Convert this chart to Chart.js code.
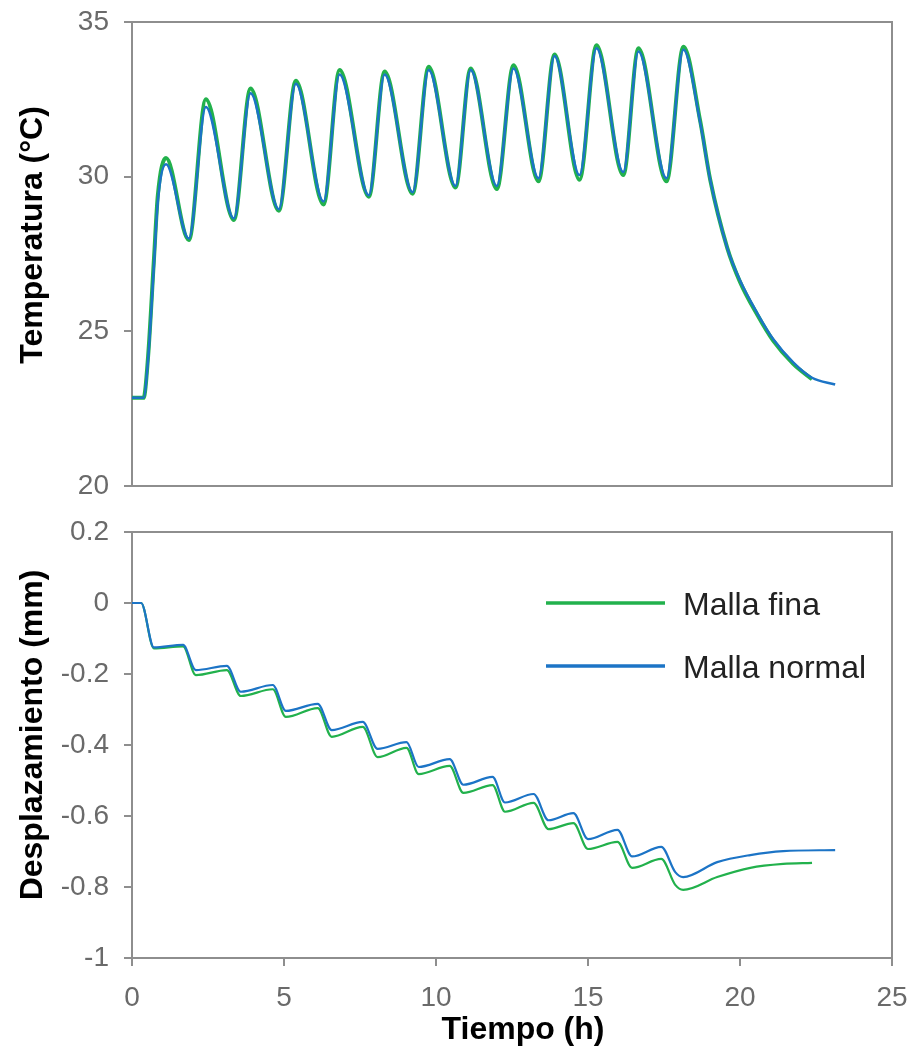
<!DOCTYPE html>
<html>
<head>
<meta charset="utf-8">
<script src="https://cdn.jsdelivr.net/npm/chart.js@4.4.1/dist/chart.umd.min.js"></script>
<style>
  body { margin: 0; background: #fff; }
  #wrap { position: relative; width: 913px; height: 1055px; }
  canvas { position: absolute; left: 0; }
  #tempChart { top: 0; }
  #dispChart { top: 510px; }
</style>
</head>
<body>
<div id="wrap">
  <canvas id="tempChart" width="913" height="510"></canvas>
  <canvas id="dispChart" width="913" height="545"></canvas>
</div>
<script>
// Series names
const seriesNames = ["Malla fina", "Malla normal"];

// Temperature (°C) vs time (h)
const tempTimeNormal = [0, 0.38, 0.53, 0.72, 0.85, 1.12, 1.87, 2.43, 3.35, 3.9, 4.83, 5.39, 6.3, 6.83, 7.79, 8.31, 9.23, 9.76, 10.64, 11.14, 12.0, 12.55, 13.37, 13.9, 14.72, 15.28, 16.16, 16.66, 17.58, 18.14, 18.69, 19.02, 19.58, 20.0, 20.56, 21.09, 21.75, 22.37, 23.13];
const tempNormal = [22.85, 22.85, 24.1, 27.1, 29.2, 30.4, 28.0, 32.25, 28.65, 32.7, 28.95, 33.0, 29.2, 33.3, 29.4, 33.3, 29.5, 33.45, 29.7, 33.45, 29.7, 33.5, 29.95, 33.9, 30.05, 34.15, 30.15, 34.05, 29.95, 34.1, 31.75, 29.9, 27.7, 26.65, 25.6, 24.75, 24.0, 23.5, 23.28];
const tempTimeFina = [0, 0.38, 0.53, 0.72, 0.85, 1.12, 1.87, 2.43, 3.35, 3.9, 4.83, 5.39, 6.3, 6.83, 7.79, 8.31, 9.23, 9.76, 10.64, 11.14, 12.0, 12.55, 13.37, 13.9, 14.72, 15.28, 16.16, 16.66, 17.58, 18.14, 18.69, 19.02, 19.58, 20.0, 20.56, 21.09, 21.75, 22.37];
const tempFina = [22.85, 22.85, 24.2, 27.3, 29.4, 30.6, 27.95, 32.5, 28.6, 32.85, 28.9, 33.1, 29.1, 33.45, 29.35, 33.4, 29.45, 33.55, 29.65, 33.5, 29.6, 33.6, 29.85, 33.95, 29.9, 34.25, 30.05, 34.15, 29.85, 34.2, 31.8, 29.9, 27.7, 26.6, 25.55, 24.7, 23.95, 23.45];

// Displacement (mm) vs time (h)
const dispTimeNormal = [0, 0.3, 0.72, 1.68, 2.1, 3.12, 3.58, 4.63, 5.06, 6.11, 6.57, 7.59, 8.08, 9.03, 9.43, 10.45, 10.9, 11.86, 12.27, 13.21, 13.7, 14.52, 15.0, 15.97, 16.45, 17.41, 17.87, 18.13, 19.25, 20.34, 21.42, 23.13];
const dispNormal = [0, 0, -0.125, -0.118, -0.189, -0.177, -0.25, -0.231, -0.304, -0.284, -0.358, -0.335, -0.411, -0.392, -0.462, -0.44, -0.512, -0.49, -0.562, -0.538, -0.612, -0.592, -0.665, -0.639, -0.714, -0.687, -0.758, -0.772, -0.73, -0.71, -0.699, -0.696];
const dispTimeFina = [0, 0.3, 0.72, 1.68, 2.1, 3.12, 3.58, 4.63, 5.06, 6.11, 6.57, 7.59, 8.08, 9.03, 9.43, 10.45, 10.9, 11.86, 12.27, 13.21, 13.7, 14.52, 15.0, 15.97, 16.45, 17.41, 17.87, 18.13, 19.25, 20.34, 21.42, 22.37];
const dispFina = [0, 0, -0.128, -0.122, -0.203, -0.189, -0.262, -0.243, -0.321, -0.296, -0.377, -0.349, -0.434, -0.408, -0.482, -0.459, -0.535, -0.513, -0.588, -0.563, -0.637, -0.62, -0.693, -0.673, -0.746, -0.721, -0.794, -0.808, -0.772, -0.746, -0.735, -0.732];

// Tick labels
const timeTicks = [0, 5, 10, 15, 20, 25];
const tempTicks = [20, 25, 30, 35];
const dispTicks = [0.2, 0, -0.2, -0.4, -0.6, -0.8, -1];

const GREEN = "#22b14c";
const BLUE = "#1c74c6";
const AXIS_COLOR = "#8e8e8e";
const TICK_FONT = { family: "'Liberation Sans', Arial, sans-serif", size: 28 };
const TITLE_FONT = "bold 32px 'Liberation Sans', Arial, sans-serif";
const LEGEND_FONT = "32px 'Liberation Sans', Arial, sans-serif";

function toPoints(xs, ys) {
  return xs.map((x, i) => ({ x: x, y: ys[i] }));
}

function fixedTicks(values) {
  return (scale) => {
    scale.ticks = values.map((v) => ({ value: v }));
  };
}

// no extra room for label overflow, layout padding does it
function noOverflow(scale) {
  scale.paddingTop = 0;
  scale.paddingBottom = 0;
  scale.paddingLeft = 0;
  scale.paddingRight = 0;
}

// box around the plot area
const framePlugin = {
  id: "frame",
  beforeDatasetsDraw(chart) {
    const { ctx, chartArea: a } = chart;
    ctx.save();
    ctx.strokeStyle = AXIS_COLOR;
    ctx.lineWidth = 2;
    ctx.strokeRect(a.left, a.top, a.right - a.left, a.bottom - a.top);
    ctx.restore();
  },
};

// axis titles and legend drawn at fixed spots
const labelsPlugin = {
  id: "labels",
  afterDraw(chart, args, opts) {
    const ctx = chart.ctx;
    ctx.save();
    ctx.fillStyle = "#000";
    ctx.font = TITLE_FONT;
    ctx.textAlign = "center";
    ctx.textBaseline = "middle";
    (opts.titles || []).forEach((t) => {
      ctx.save();
      ctx.translate(t.x, t.y);
      if (t.vertical) ctx.rotate(-Math.PI / 2);
      ctx.fillText(t.text, 0, 0);
      ctx.restore();
    });
    if (opts.legend) {
      const lg = opts.legend;
      ctx.font = LEGEND_FONT;
      ctx.textAlign = "left";
      ctx.fillStyle = "#222";
      chart.data.datasets.forEach((ds, i) => {
        const y = lg.y + i * lg.gap;
        ctx.strokeStyle = ds.borderColor;
        ctx.lineWidth = 3.5;
        ctx.beginPath();
        ctx.moveTo(lg.x, y);
        ctx.lineTo(lg.x + lg.len, y);
        ctx.stroke();
        ctx.fillText(ds.label, lg.x + lg.len + 18, y + 3);
      });
    }
    ctx.restore();
  },
};

const yAxisBase = {
  grid: { drawOnChartArea: false, color: AXIS_COLOR, lineWidth: 2, tickLength: 8 },
  border: { display: false },
  ticks: { font: TICK_FONT, color: "#6a6a6a", padding: 15, callback: (v) => String(v) },
  afterFit: (scale) => {
    scale.width = 132;
    noOverflow(scale);
  },
};

function lineDataset(label, pts, color, width, order) {
  return {
    label: label,
    data: pts,
    borderColor: color,
    backgroundColor: color,
    borderWidth: width,
    pointRadius: 0,
    cubicInterpolationMode: "monotone",
    order: order,
  };
}

// Temperature chart
new Chart(document.getElementById("tempChart"), {
  type: "line",
  data: {
    datasets: [
      lineDataset(seriesNames[0], toPoints(tempTimeFina, tempFina), GREEN, 4, 1),
      lineDataset(seriesNames[1], toPoints(tempTimeNormal, tempNormal), BLUE, 2.5, 0),
    ],
  },
  options: {
    responsive: false,
    animation: false,
    layout: { padding: { left: 0, right: 21, top: 22, bottom: 24 } },
    plugins: {
      legend: { display: false },
      tooltip: { enabled: false },
      labels: { titles: [{ text: "Temperatura (°C)", x: 33, y: 235, vertical: true }] },
    },
    scales: {
      x: { type: "linear", min: 0, max: 25, display: false },
      y: Object.assign({}, yAxisBase, {
        min: 20,
        max: 35,
        afterBuildTicks: fixedTicks(tempTicks),
      }),
    },
  },
  plugins: [framePlugin, labelsPlugin],
});

// Displacement chart
new Chart(document.getElementById("dispChart"), {
  type: "line",
  data: {
    datasets: [
      lineDataset(seriesNames[0], toPoints(dispTimeFina, dispFina), GREEN, 2.2, 1),
      lineDataset(seriesNames[1], toPoints(dispTimeNormal, dispNormal), BLUE, 2.2, 0),
    ],
  },
  options: {
    responsive: false,
    animation: false,
    layout: { padding: { left: 0, right: 21, top: 22, bottom: 0 } },
    plugins: {
      legend: { display: false },
      tooltip: { enabled: false },
      labels: {
        titles: [
          { text: "Desplazamiento (mm)", x: 33, y: 225, vertical: true },
          { text: "Tiempo (h)", x: 523, y: 520, vertical: false },
        ],
        legend: { x: 546, y: 93, gap: 63, len: 119 },
      },
    },
    scales: {
      x: {
        type: "linear",
        min: 0,
        max: 25,
        grid: { drawOnChartArea: false, color: AXIS_COLOR, lineWidth: 2, tickLength: 8 },
        border: { display: false },
        ticks: { font: TICK_FONT, color: "#6a6a6a", padding: 15, maxRotation: 0 },
        afterBuildTicks: fixedTicks(timeTicks),
        afterFit: (scale) => {
          scale.height = 97;
          noOverflow(scale);
        },
      },
      y: Object.assign({}, yAxisBase, {
        min: -1,
        max: 0.2,
        afterBuildTicks: fixedTicks(dispTicks),
      }),
    },
  },
  plugins: [framePlugin, labelsPlugin],
});
</script>
</body>
</html>
